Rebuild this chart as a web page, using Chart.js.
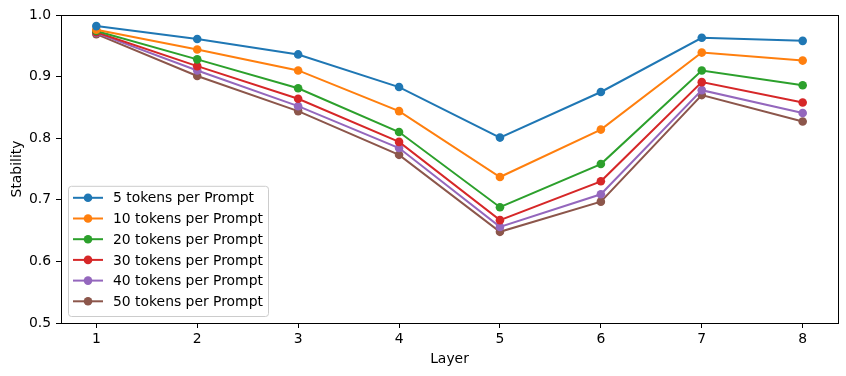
<!DOCTYPE html>
<html>
<head>
<meta charset="utf-8">
<script src="https://cdn.jsdelivr.net/npm/chart.js@4.4.1/dist/chart.umd.min.js"></script>
<style>
  html, body { margin: 0; padding: 0; background: #fff; }
  #wrap { position: relative; width: 846px; height: 376px; }
</style>
</head>
<body>
<div id="wrap"><canvas id="chart" width="846" height="376"></canvas></div>
<script>
// ============================================================
// Data
// ============================================================
const layers = [1, 2, 3, 4, 5, 6, 7, 8];
const yTicks = [0.5, 0.6, 0.7, 0.8, 0.9, 1.0];

const seriesLabels = [
    '5 tokens per Prompt',
    '10 tokens per Prompt',
    '20 tokens per Prompt',
    '30 tokens per Prompt',
    '40 tokens per Prompt',
    '50 tokens per Prompt'
];
const tokens5  = [0.982, 0.961, 0.936, 0.883, 0.801, 0.875, 0.963, 0.958];
const tokens10 = [0.976, 0.944, 0.910, 0.844, 0.737, 0.814, 0.939, 0.926];
const tokens20 = [0.974, 0.928, 0.881, 0.810, 0.688, 0.758, 0.910, 0.886];
const tokens30 = [0.972, 0.917, 0.864, 0.794, 0.667, 0.730, 0.891, 0.858];
const tokens40 = [0.971, 0.910, 0.852, 0.784, 0.656, 0.709, 0.878, 0.841];
const tokens50 = [0.969, 0.901, 0.844, 0.773, 0.648, 0.697, 0.870, 0.827];

const colors = ['#1f77b4', '#ff7f0e', '#2ca02c', '#d62728', '#9467bd', '#8c564b'];
const FONT = "'DejaVu Sans', sans-serif";
const FSIZE = 13.9;

// ============================================================
// Plugins: full frame + legend box inside the plot (matplotlib style)
// ============================================================
const framePlugin = {
    id: 'frame',
    afterDraw(chart) {
        const { ctx, chartArea: a } = chart;
        ctx.save();
        ctx.strokeStyle = '#000';
        ctx.lineWidth = 1;
        ctx.strokeRect(Math.round(a.left) + 0.5, Math.round(a.top) + 0.5,
            Math.round(a.right - a.left), Math.round(a.bottom - a.top));
        ctx.restore();
    }
};

const legendPlugin = {
    id: 'boxLegend',
    afterDraw(chart) {
        const { ctx, chartArea: a } = chart;
        const sets = chart.data.datasets;
        const x0 = a.left + 7, rowH = 20.7;
        const boxW = 200, boxH = rowH * sets.length + 6;
        const y0 = a.bottom - 7 - boxH;
        ctx.save();
        ctx.fillStyle = 'rgba(255,255,255,0.8)';
        ctx.strokeStyle = '#cccccc';
        ctx.lineWidth = 1;
        ctx.beginPath();
        ctx.roundRect(x0 + 0.5, y0 + 0.5, boxW, boxH, 3);
        ctx.fill();
        ctx.stroke();
        ctx.font = FSIZE + 'px ' + FONT;
        ctx.textBaseline = 'middle';
        sets.forEach((ds, i) => {
            const cy = y0 + 12 + i * rowH;
            ctx.strokeStyle = ds.borderColor;
            ctx.lineWidth = 2;
            ctx.beginPath();
            ctx.moveTo(x0 + 5, cy);
            ctx.lineTo(x0 + 35, cy);
            ctx.stroke();
            ctx.fillStyle = ds.borderColor;
            ctx.beginPath();
            ctx.arc(x0 + 20, cy, 4.3, 0, Math.PI * 2);
            ctx.fill();
            ctx.fillStyle = '#000';
            ctx.fillText(ds.label, x0 + 45, cy + 1);
        });
        ctx.restore();
    }
};

// ============================================================
// Chart
// ============================================================
const allSeries = [tokens5, tokens10, tokens20, tokens30, tokens40, tokens50];

const datasets = allSeries.map((vals, i) => ({
    label: seriesLabels[i],
    data: layers.map((l, j) => ({ x: l, y: vals[j] })),
    borderColor: colors[i],
    backgroundColor: colors[i],
    borderWidth: 2,
    pointRadius: 4.3,
    pointBorderWidth: 0,
    pointHoverRadius: 4.3,
    tension: 0
}));

new Chart(document.getElementById('chart'), {
    type: 'line',
    data: { datasets },
    options: {
        responsive: false,
        animation: false,
        layout: { padding: { top: 15, right: 8, left: 0, bottom: 0 } },
        plugins: {
            legend: { display: false },
            tooltip: { enabled: false }
        },
        scales: {
            x: {
                type: 'linear',
                min: 0.65,
                max: 8.35,
                afterBuildTicks: (axis) => { axis.ticks = layers.map(v => ({ value: v })); },
                afterFit: (axis) => { axis.height = 53; },
                grid: { drawOnChartArea: false, tickLength: 5, color: '#000' },
                border: { color: '#000' },
                ticks: {
                    color: '#000',
                    padding: 3,
                    font: { family: FONT, size: FSIZE },
                    callback: (v) => String(v)
                },
                title: {
                    display: true,
                    text: 'Layer',
                    color: '#000',
                    padding: { top: 2, bottom: 8 },
                    font: { family: FONT, size: FSIZE }
                }
            },
            y: {
                min: 0.5,
                max: 1.0,
                afterBuildTicks: (axis) => { axis.ticks = yTicks.map(v => ({ value: v })); },
                afterFit: (axis) => { axis.width = 61; },
                grid: { drawOnChartArea: false, tickLength: 5, color: '#000' },
                border: { color: '#000' },
                ticks: {
                    color: '#000',
                    padding: 5,
                    font: { family: FONT, size: FSIZE },
                    callback: (v) => v.toFixed(1)
                },
                title: {
                    display: true,
                    text: 'Stability',
                    color: '#000',
                    padding: { top: 9, bottom: 2 },
                    font: { family: FONT, size: FSIZE }
                }
            }
        }
    },
    plugins: [framePlugin, legendPlugin]
});
</script>
</body>
</html>
